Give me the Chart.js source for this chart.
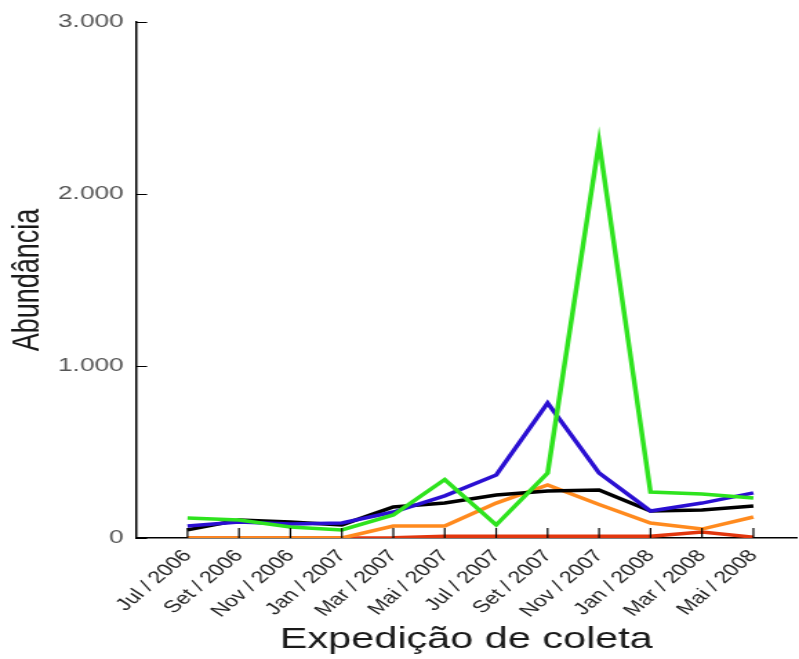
<!DOCTYPE html>
<html>
<head>
<meta charset="utf-8">
<script src="https://cdn.jsdelivr.net/npm/chart.js@4/dist/chart.umd.min.js"></script>
<style>
  html, body { margin: 0; padding: 0; background: #fff; overflow: hidden; }
  /* the original picture is stretched sideways, so draw narrower and widen it */
  #wrap { width: 579px; height: 659px; transform: scaleX(1.38); transform-origin: 0 0; }
</style>
</head>
<body>
<div id="wrap"><canvas id="abund"></canvas></div>
<script>
const expeditions = ["Jul / 2006", "Set / 2006", "Nov / 2006", "Jan / 2007", "Mar / 2007", "Mai / 2007",
  "Jul / 2007", "Set / 2007", "Nov / 2007", "Jan / 2008", "Mar / 2008", "Mai / 2008"];

const greenSeries  = [116, 105, 64, 47, 134, 340, 76, 378, 2300, 267, 256, 233];
const blueSeries   = [70, 93, 81, 87, 151, 245, 366, 785, 378, 157, 203, 262];
const blackSeries  = [47, 105, 93, 76, 180, 203, 250, 273, 279, 157, 163, 186];
const orangeSeries = [0, 0, 0, 0, 70, 70, 203, 308, 195, 87, 52, 122];
const redSeries    = [0, 0, 0, 0, 2, 10, 10, 10, 10, 10, 35, 5];

const yTicks = [0, 1000, 2000, 3000];

function pts(arr) {
  return arr.map((v, i) => ({ x: i, y: v }));
}

function fmt(v) {
  return String(v).replace(/\B(?=(\d{3})+(?!\d))/g, ".");
}

// tick marks drawn inward, like the original
const innerTicks = {
  id: "innerTicks",
  afterDraw(chart) {
    const ctx = chart.ctx;
    const xs = chart.scales.x, ys = chart.scales.y;
    ctx.save();
    ctx.strokeStyle = "#000";
    ctx.lineWidth = 1.2;
    ctx.beginPath();
    expeditions.forEach((l, i) => {
      const px = xs.getPixelForValue(i);
      ctx.moveTo(px, ys.bottom);
      ctx.lineTo(px, ys.bottom - 10);
    });
    yTicks.forEach(v => {
      const py = Math.round(ys.getPixelForValue(v)) + 0.5;
      ctx.moveTo(xs.left, py);
      ctx.lineTo(xs.left + 8, py);
    });
    ctx.stroke();
    ctx.restore();
  }
};

let abundChart = new Chart(document.getElementById("abund"), {
  type: "line",
  data: {
    datasets: [
      { data: pts(greenSeries), borderColor: "#2ee31e" },
      { data: pts(blueSeries), borderColor: "#2a0fd2" },
      { data: pts(blackSeries), borderColor: "#000000" },
      { data: pts(orangeSeries), borderColor: "#ff8a1e" },
      { data: pts(redSeries), borderColor: "#e2360e" },
    ],
  },
  options: {
    responsive: true,
    maintainAspectRatio: false,
    animation: false,
    layout: { padding: { top: 22, right: 0, left: 0, bottom: 0 } },
    elements: {
      line: { borderWidth: 3.5, tension: 0, fill: false },
      point: { radius: 0 },
    },
    plugins: { legend: { display: false }, tooltip: { enabled: false } },
    scales: {
      x: {
        type: "linear",
        min: -1,
        max: 11.84,
        afterBuildTicks: s => { s.ticks = expeditions.map((l, i) => ({ value: i })); },
        afterFit: s => { s.height = 121; },
        border: { display: true, color: "#000", width: 1.5 },
        grid: { display: false, drawTicks: false },
        ticks: {
          autoSkip: false,
          minRotation: 49,
          maxRotation: 49,
          padding: 8,
          color: "#222",
          font: { family: "Liberation Sans", size: 17 },
          callback: v => expeditions[v],
        },
        title: {
          display: true,
          text: "Expedição de coleta",
          color: "#1a1a1a",
          font: { family: "Liberation Sans", size: 30 },
          padding: { top: 0, bottom: 1 },
        },
      },
      y: {
        min: 0,
        max: 3000,
        afterBuildTicks: s => { s.ticks = yTicks.map(v => ({ value: v })); },
        afterFit: s => { s.width = 98.6; },
        border: { display: true, color: "#000", width: 1.5 },
        grid: { display: false, drawTicks: false },
        ticks: {
          padding: 9,
          color: "#555",
          font: { family: "Liberation Sans", size: 19 },
          callback: v => fmt(v),
        },
        title: {
          display: true,
          text: "Abundância",
          color: "#1a1a1a",
          font: { family: "Liberation Sans", size: 27 },
          padding: { top: 4, bottom: 0 },
        },
      },
    },
  },
  plugins: [innerTicks],
});
</script>
</body>
</html>
